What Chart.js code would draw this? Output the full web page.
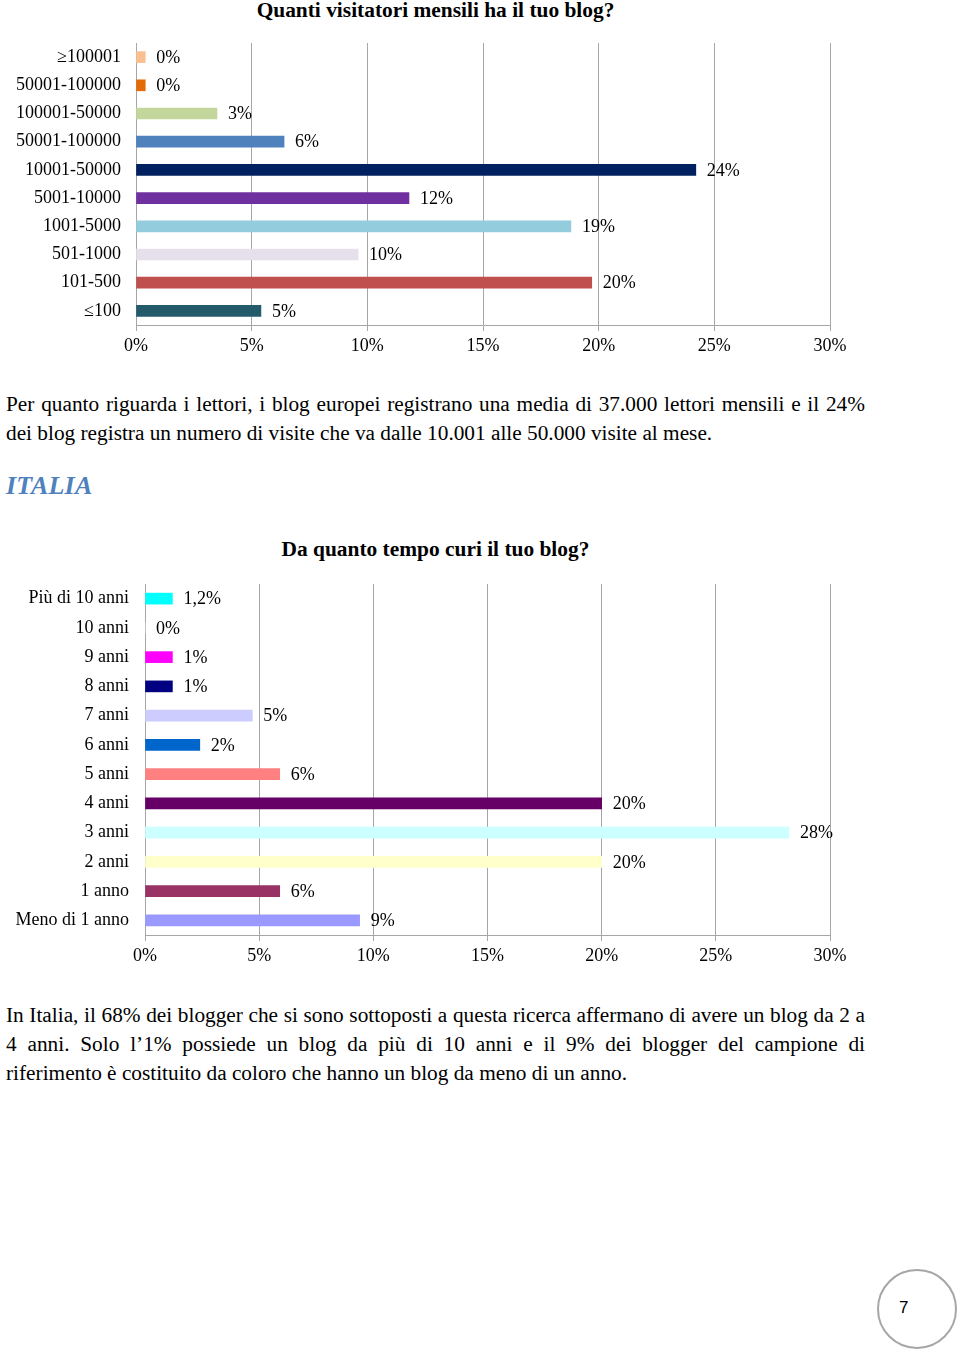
<!DOCTYPE html>
<html>
<head>
<meta charset="utf-8">
<script src="https://cdn.jsdelivr.net/npm/chart.js@4.4.1/dist/chart.umd.min.js"></script>
<style>
  body { margin: 0; background: #fff; width: 960px; height: 1350px; position: relative; overflow: hidden;
         font-family: "Liberation Serif", "Times New Roman", serif; color: #000; }
  canvas { position: absolute; left: 0; }
  #chart1 { top: 0; }
  #chart2 { top: 537px; }
  .title { position: absolute; left: 0; width: 871px; text-align: center; font-weight: bold;
           font-size: 21.4px; line-height: 24px; }
  #t1 { top: -2px; }
  #t2 { top: 537px; }
  .para { position: absolute; left: 6px; width: 859px; font-size: 21.3px; line-height: 29px; }
  .para div { text-align: justify; text-align-last: justify; white-space: nowrap; }
  .para div.last { text-align-last: left; }
  #p1 { top: 390px; }
  #p2 { top: 1001px; }
  #heading { position: absolute; left: 6px; top: 470px; font-size: 26px; font-weight: bold; font-style: italic;
             color: #4f81bd; letter-spacing: 0.2px; line-height: 32px; }
  #page { position: absolute; left: 877px; top: 1269px; width: 76px; height: 76px; border: 2px solid #a6a6a6;
          border-radius: 50%; }
  #page span { position: absolute; left: 20px; top: 27px; font-family: "Liberation Sans", sans-serif; font-size: 17px; }
</style>
</head>
<body>
<div class="title" id="t1">Quanti visitatori mensili ha il tuo blog?</div>
<canvas id="chart1" width="870" height="365"></canvas>

<div class="para" id="p1">
  <div>Per quanto riguarda i lettori, i blog europei registrano una media di 37.000 lettori mensili e il 24%</div>
  <div class="last">dei blog registra un numero di visite che va dalle 10.001 alle 50.000 visite al mese.</div>
</div>

<div id="heading">ITALIA</div>

<div class="title" id="t2">Da quanto tempo curi il tuo blog?</div>
<canvas id="chart2" width="870" height="438"></canvas>

<div class="para" id="p2">
  <div>In Italia, il 68% dei blogger che si sono sottoposti a questa ricerca affermano di avere un blog da 2 a</div>
  <div>4 anni. Solo l’1% possiede un blog da più di 10 anni e il 9% dei blogger del campione di</div>
  <div class="last">riferimento è costituito da coloro che hanno un blog da meno di un anno.</div>
</div>

<div id="page"><span>7</span></div>

<script>
// --- Chart 1: monthly visitors ---
const visitCategories = ["≥100001", "50001-100000", "100001-50000", "50001-100000", "10001-50000",
  "5001-10000", "1001-5000", "501-1000", "101-500", "≤100"];
const visitValues = [0.4, 0.4, 3.5, 6.4, 24.2, 11.8, 18.8, 9.6, 19.7, 5.4];
const visitLabels = ["0%", "0%", "3%", "6%", "24%", "12%", "19%", "10%", "20%", "5%"];
const visitColors = ["#fac090", "#e36c09", "#c3d69b", "#4f81bd", "#002060",
  "#7030a0", "#93cddd", "#e6e0ec", "#c0504d", "#245b6b"];

// --- Chart 2: years of blogging ---
const tenureCategories = ["Più di 10 anni", "10 anni", "9 anni", "8 anni", "7 anni", "6 anni",
  "5 anni", "4 anni", "3 anni", "2 anni", "1 anno", "Meno di 1 anno"];
const tenureValues = [1.2, 0, 1.2, 1.2, 4.7, 2.4, 5.9, 20.0, 28.2, 20.0, 5.9, 9.4];
const tenureLabels = ["1,2%", "0%", "1%", "1%", "5%", "2%", "6%", "20%", "28%", "20%", "6%", "9%"];
const tenureColors = ["#00ffff", "#ffffff", "#ff00ff", "#000080", "#ccccff", "#0066cc",
  "#ff8080", "#660066", "#ccffff", "#ffffcc", "#993366", "#9999ff"];

const xTicks = [0, 5, 10, 15, 20, 25, 30];

const FONT = "'Liberation Serif', 'Times New Roman', serif";
const GRID = "#a6a6a6";

const valueLabelPlugin = {
  id: "valueLabels",
  afterDatasetsDraw(chart, args, opts) {
    const ctx = chart.ctx;
    const meta = chart.getDatasetMeta(0);
    ctx.save();
    ctx.font = "18px " + FONT;
    ctx.fillStyle = "#000";
    ctx.textBaseline = "middle";
    ctx.textAlign = "left";
    meta.data.forEach((bar, i) => {
      ctx.fillText(opts.labels[i], bar.x + 11, bar.y + 1);
    });
    ctx.restore();
  },
};

function makeChart(id, categories, values, colors, labels, axisWidth, labelPad, padTop) {
  return new Chart(document.getElementById(id), {
    type: "bar",
    data: {
      labels: categories,
      datasets: [{
        data: values,
        backgroundColor: colors,
        borderWidth: 0,
        barThickness: 11,
      }],
    },
    plugins: [valueLabelPlugin],
    options: {
      indexAxis: "y",
      responsive: false,
      animation: false,
      layout: { padding: { top: padTop, right: 40, bottom: 0, left: 0 } },
      scales: {
        x: {
          min: xTicks[0],
          max: xTicks[xTicks.length - 1],
          afterBuildTicks: (axis) => { axis.ticks = xTicks.map((v) => ({ value: v })); },
          afterFit: (axis) => { axis.height = 40; },
          grid: { color: GRID, lineWidth: 1, tickLength: 6, drawTicks: true },
          border: { display: true, color: GRID, width: 1 },
          ticks: {
            color: "#000",
            padding: 4,
            font: { family: FONT, size: 18 },
            callback: (v) => v + "%",
          },
        },
        y: {
          afterFit: (axis) => { axis.width = axisWidth; },
          grid: { display: false, drawTicks: false },
          border: { display: false },
          ticks: {
            color: "#000",
            padding: labelPad,
            font: { family: FONT, size: 18 },
          },
        },
      },
      plugins: {
        legend: { display: false },
        tooltip: { enabled: false },
        valueLabels: { labels: labels },
      },
    },
  });
}

makeChart("chart1", visitCategories, visitValues, visitColors, visitLabels, 136, 15, 43);
makeChart("chart2", tenureCategories, tenureValues, tenureColors, tenureLabels, 145, 16, 47);
</script>
</body>
</html>
